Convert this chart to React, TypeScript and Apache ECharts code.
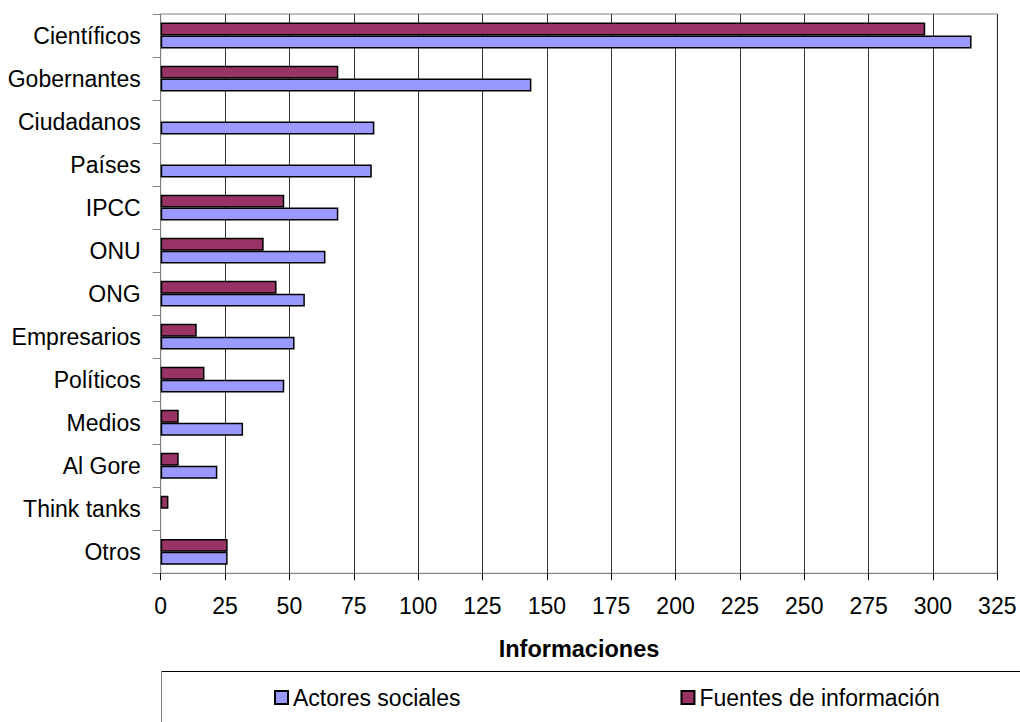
import React, { useEffect, useRef } from "react";
import * as echarts from "echarts";

const categories = [
  "Científicos",
  "Gobernantes",
  "Ciudadanos",
  "Países",
  "IPCC",
  "ONU",
  "ONG",
  "Empresarios",
  "Políticos",
  "Medios",
  "Al Gore",
  "Think tanks",
  "Otros",
];
const actoresSociales = [315, 144, 83, 82, 69, 64, 56, 52, 48, 32, 22, 0, 26];
const fuentesInformacion = [297, 69, 0, 0, 48, 40, 45, 14, 17, 7, 7, 3, 26];
const xTicks = { min: 0, max: 325, interval: 25 };
const axisTitle = "Informaciones";
const seriesNames = ["Actores sociales", "Fuentes de información"];

const FONT = "'Liberation Sans', Arial, sans-serif";

export default function App() {
  const ref = useRef<HTMLDivElement>(null);
  useEffect(() => {
    if (!ref.current) return;
    const chart = echarts.init(ref.current, null, { renderer: "svg" });
    const noZero = (arr: number[]) => arr.map((v) => (v === 0 ? "-" : v));
    chart.setOption({
      animation: false,
      backgroundColor: "#ffffff",
      textStyle: { fontFamily: FONT },
      grid: {
        left: 160.7,
        right: 22.7,
        top: 14,
        bottom: 148.7,
        show: true,
        borderColor: "#808080",
        borderWidth: 1,
        backgroundColor: "transparent",
      },
      legend: {
        data: seriesNames,
        left: 269,
        top: 681,
        itemWidth: 13,
        itemHeight: 13,
        itemGap: 220,
        icon: "rect",
        textStyle: { fontSize: 23, color: "#000", fontFamily: FONT },
      },
      xAxis: {
        type: "value",
        min: xTicks.min,
        max: xTicks.max,
        interval: xTicks.interval,
        name: axisTitle,
        nameLocation: "middle",
        nameGap: 64,
        nameTextStyle: { fontSize: 23.5, fontWeight: "bold", color: "#000", fontFamily: FONT },
        axisLine: { show: true, lineStyle: { color: "#808080", width: 1 } },
        axisTick: { show: true, length: 7, lineStyle: { color: "#000" } },
        axisLabel: { fontSize: 23, color: "#000", margin: 21, fontFamily: FONT },
        splitLine: { show: true, lineStyle: { color: "#333", width: 1 } },
      },
      yAxis: {
        type: "category",
        data: categories,
        inverse: true,
        axisLine: { show: true, lineStyle: { color: "#808080", width: 1 } },
        axisTick: { show: true, length: 8, lineStyle: { color: "#808080" } },
        axisLabel: { fontSize: 23, color: "#000", margin: 20, fontFamily: FONT },
        splitLine: { show: false },
      },
      series: [
        {
          name: seriesNames[1],
          type: "bar",
          data: noZero(fuentesInformacion),
          barCategoryGap: "40%",
          barGap: "0%",
          itemStyle: { color: "#993366", borderColor: "#000", borderWidth: 1.5 },
        },
        {
          name: seriesNames[0],
          type: "bar",
          data: noZero(actoresSociales),
          barCategoryGap: "40%",
          barGap: "0%",
          itemStyle: { color: "#9999FF", borderColor: "#000", borderWidth: 1.5 },
        },
      ],
      graphic: [
        {
          type: "line",
          shape: { x1: 161, y1: 671.5, x2: 1020, y2: 671.5 },
          style: { stroke: "#000", lineWidth: 1 },
          silent: true,
        },
        {
          type: "line",
          shape: { x1: 161.5, y1: 671, x2: 161.5, y2: 722 },
          style: { stroke: "#808080", lineWidth: 1 },
          silent: true,
        },
      ],
    });
    return () => chart.dispose();
  }, []);
  return (
    <div
      ref={ref}
      style={{ position: "fixed", left: 0, top: 0, width: 1020, height: 722 }}
    />
  );
}
